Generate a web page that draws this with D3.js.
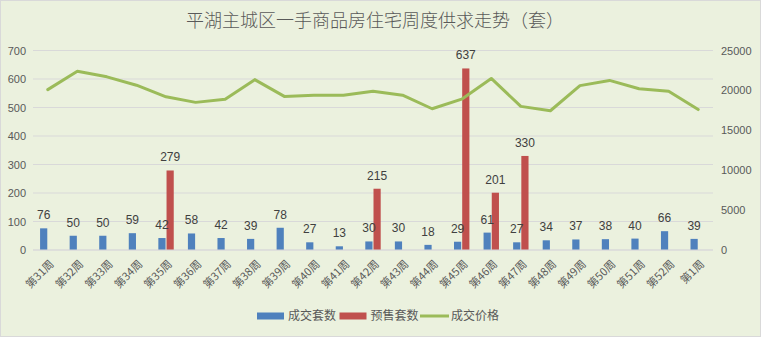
<!DOCTYPE html>
<html><head><meta charset="utf-8">
<script src="https://cdn.jsdelivr.net/npm/d3@7"></script>
<style>
html,body{margin:0;padding:0;background:#EBF1DE;}
svg{display:block;}
</style></head>
<body>
<script>
const title = "平湖主城区一手商品房住宅周度供求走势（套）";
const weeks = ["第31周","第32周","第33周","第34周","第35周","第36周","第37周","第38周","第39周","第40周","第41周","第42周","第43周","第44周","第45周","第46周","第47周","第48周","第49周","第50周","第51周","第52周","第1周"];
const dealCount = [76,50,50,59,42,58,42,39,78,27,13,30,30,18,29,61,27,34,37,38,40,66,39];
const presaleCount = [null,null,null,null,279,null,null,null,null,null,null,215,null,null,637,201,330,null,null,null,null,null,null];
const dealPrice = [20100,22400,21700,20650,19200,18500,18900,21350,19250,19400,19400,19900,19400,17700,18900,21500,18000,17450,20600,21250,20200,19900,17600];
const leftTicks = [0,100,200,300,400,500,600,700];
const rightTicks = [0,5000,10000,15000,20000,25000];
const seriesNames = ["成交套数","预售套数","成交价格"];
const colors = {deal:"#4F81BD", presale:"#C0504D", price:"#9BBB59"};

const W = 761, H = 337;
const svg = d3.select("body").append("svg").attr("width", W).attr("height", H);
svg.append("rect").attr("x",0.5).attr("y",0.5).attr("width",W-1).attr("height",H-1)
  .attr("fill","#EBF1DE").attr("stroke","#D9D9D9");

const x0 = d3.scaleBand().domain(weeks).range([33, 713]).padding(0);
const yL = d3.scaleLinear().domain([0,700]).range([250, 50.5]);
const yR = d3.scaleLinear().domain([0,25000]).range([250, 50.5]);
const barW = 7.2;

// gridlines
svg.append("g").selectAll("line").data(leftTicks).join("line")
  .attr("x1",33).attr("x2",713)
  .attr("y1",d=>yL(d)).attr("y2",d=>yL(d))
  .attr("stroke","#D9D9D9").attr("stroke-width",1);

// left axis
const axL = svg.append("g").attr("transform","translate(26,0)")
  .call(d3.axisLeft(yL).tickValues(leftTicks).tickSize(0).tickPadding(0).tickFormat(d3.format("d")));
axL.select(".domain").remove();
axL.selectAll("text").attr("fill","#595959").style("font-family","Liberation Sans, Arial, sans-serif").style("font-size","11px");

// right axis
const axR = svg.append("g").attr("transform","translate(721,0)")
  .call(d3.axisRight(yR).tickValues(rightTicks).tickSize(0).tickPadding(0).tickFormat(d3.format("d")));
axR.select(".domain").remove();
axR.selectAll("text").attr("fill","#595959").style("font-family","Liberation Sans, Arial, sans-serif").style("font-size","11px");

const cx = w => x0(w) + x0.bandwidth()/2;

// bars
svg.append("g").selectAll("rect").data(weeks).join("rect")
  .attr("x",(w)=>cx(w)-barW-0.5).attr("width",barW)
  .attr("y",(w,i)=>yL(dealCount[i])).attr("height",(w,i)=>yL(0)-yL(dealCount[i]))
  .attr("fill",colors.deal);
const preIdx = weeks.map((w,i)=>i).filter(i=>presaleCount[i]!=null);
svg.append("g").selectAll("rect").data(preIdx).join("rect")
  .attr("x",i=>cx(weeks[i])+0.5).attr("width",barW)
  .attr("y",i=>yL(presaleCount[i])).attr("height",i=>yL(0)-yL(presaleCount[i]))
  .attr("fill",colors.presale);

// baseline
svg.append("line").attr("x1",33).attr("x2",713).attr("y1",yL(0)).attr("y2",yL(0))
  .attr("stroke","#D9D9D9").attr("stroke-width",1);

// price line
const line = d3.line().x((d,i)=>cx(weeks[i])).y(d=>yR(d));
svg.append("path").datum(dealPrice).attr("d",line)
  .attr("fill","none").attr("stroke",colors.price).attr("stroke-width",3).attr("stroke-linejoin","round").attr("stroke-linecap","round");

// data labels
const lblFont = "Liberation Sans, Arial, sans-serif";
svg.append("g").selectAll("text").data(weeks).join("text")
  .attr("x",w=>cx(w)-barW/2-0.5).attr("y",(w,i)=>yL(dealCount[i])-9)
  .attr("text-anchor","middle").attr("fill","#404040")
  .style("font-family",lblFont).style("font-size","12px")
  .text((w,i)=>dealCount[i]);
svg.append("g").selectAll("text").data(preIdx).join("text")
  .attr("x",i=>cx(weeks[i])+barW/2+0.5).attr("y",i=>yL(presaleCount[i])-9)
  .attr("text-anchor","middle").attr("fill","#404040")
  .style("font-family",lblFont).style("font-size","12px")
  .text(i=>presaleCount[i]);

// x labels
svg.append("g").selectAll("text").data(weeks).join("text")
  .attr("transform",w=>`translate(${cx(w)+4},${262}) rotate(-45)`)
  .attr("text-anchor","end").attr("dy","0.35em").attr("fill","#595959")
  .style("font-family","Noto Sans CJK SC, sans-serif").style("font-size","11px")
  .text(w=>w);

// title
svg.append("text").attr("x",375).attr("y",27).attr("text-anchor","middle")
  .attr("fill","#595959").style("font-family","Noto Sans CJK SC, sans-serif")
  .style("font-size","18px").style("font-weight","300").text(title);

// legend
const lg = svg.append("g").style("font-family","Noto Sans CJK SC, sans-serif").style("font-size","12px");
const legendItems = [
  {name:seriesNames[0], type:"rect", color:colors.deal, x:257},
  {name:seriesNames[1], type:"rect", color:colors.presale, x:339.5},
  {name:seriesNames[2], type:"line", color:colors.price, x:420}
];
legendItems.forEach(it=>{
  if(it.type==="rect"){
    lg.append("rect").attr("x",it.x).attr("y",312.5).attr("width",27).attr("height",7).attr("fill",it.color);
  } else {
    lg.append("line").attr("x1",it.x).attr("x2",it.x+29).attr("y1",316).attr("y2",316).attr("stroke",it.color).attr("stroke-width",3);
  }
  lg.append("text").attr("x",it.x+31).attr("y",316).attr("dy","0.35em").attr("fill","#595959").text(it.name);
});
</script>
</body></html>
